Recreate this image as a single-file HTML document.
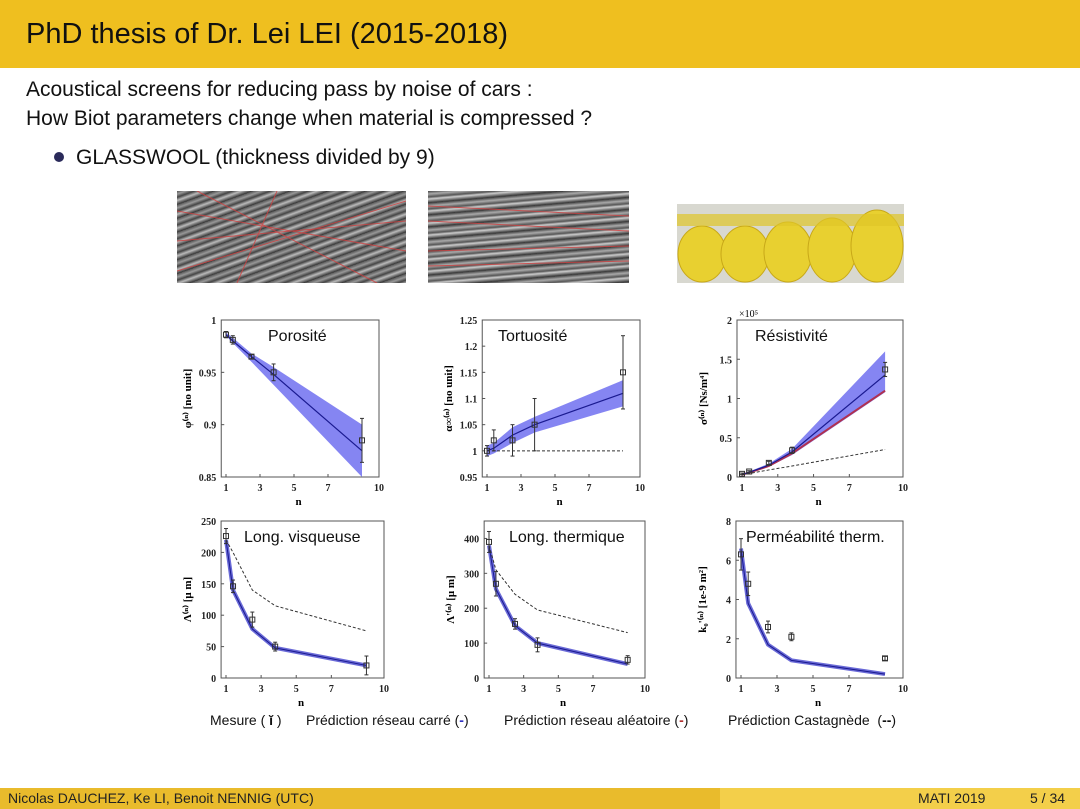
<!DOCTYPE html>
<html><head><meta charset="utf-8">
<style>
body{margin:0;width:1080px;height:809px;overflow:hidden;background:#fff;font-family:"Liberation Sans",sans-serif;position:relative}
.hdr{position:absolute;left:0;top:0;width:1080px;height:68px;background:#efbf1f}
.hdr h1{position:absolute;left:26px;top:18px;margin:0;font-weight:normal;font-size:29px;color:#111}
.txt{position:absolute;left:26px;font-size:21px;color:#111}
.ftr{position:absolute;left:0;top:788px;width:1080px;height:21px;background:linear-gradient(90deg,#e9bb2c 0,#e9bb2c 720px,#f3cf4a 720px)}
.ftr span{position:absolute;top:2px;font-size:14px;color:#222}
.photo{position:absolute;overflow:hidden}
</style></head><body>
<div class="hdr"><h1>PhD thesis of Dr. Lei LEI (2015-2018)</h1></div>
<div class="txt" style="top:78px">Acoustical screens for reducing pass by noise of cars :</div>
<div class="txt" style="top:107px">How Biot parameters change when material is compressed ?</div>
<div class="txt" style="top:146px;left:54px"><span style="display:inline-block;width:10px;height:10px;border-radius:50%;background:#2a2a5a;margin-right:12px;vertical-align:2px"></span>GLASSWOOL (thickness divided by 9)</div>

<div class="photo" style="left:177px;top:191px;width:229px;height:92px;background:repeating-linear-gradient(160deg,#555 0,#999 3px,#444 6px,#bbb 9px,#333 13px)">
<svg width="229" height="92"><g stroke="#d04040" stroke-width="1" opacity=".8"><line x1="0" y1="20" x2="229" y2="60"/><line x1="0" y1="50" x2="229" y2="30"/><line x1="20" y1="0" x2="200" y2="92"/><line x1="0" y1="80" x2="229" y2="10"/><line x1="100" y1="0" x2="60" y2="92"/></g></svg></div>
<div class="photo" style="left:428px;top:191px;width:201px;height:92px;background:repeating-linear-gradient(175deg,#444 0,#aaa 3px,#555 6px,#ccc 8px,#333 12px)">
<svg width="201" height="92"><g stroke="#d04040" stroke-width="1" opacity=".8"><line x1="0" y1="30" x2="201" y2="40"/><line x1="0" y1="60" x2="201" y2="55"/><line x1="0" y1="75" x2="201" y2="70"/><line x1="0" y1="15" x2="201" y2="25"/></g></svg></div>
<div class="photo" style="left:677px;top:204px;width:227px;height:79px;background:#d8d8d0">
<svg width="227" height="79"><g fill="#e8d030" stroke="#c8a818"><ellipse cx="25" cy="50" rx="24" ry="28"/><ellipse cx="68" cy="50" rx="24" ry="28"/><ellipse cx="111" cy="48" rx="24" ry="30"/><ellipse cx="155" cy="46" rx="24" ry="32"/><ellipse cx="200" cy="42" rx="26" ry="36"/></g><rect x="0" y="10" width="227" height="12" fill="#e0c628" opacity=".7"/></svg></div>

<svg id="ch" width="1080" height="809" style="position:absolute;left:0;top:0"></svg>

<div style="position:absolute;top:712px;left:0;width:1080px;font-size:14px;color:#111">
<span style="position:absolute;left:210px">Mesure ( <b>ĭ</b> )</span>
<span style="position:absolute;left:306px">Prédiction réseau carré (<b style="color:#3030c0">-</b>)</span>
<span style="position:absolute;left:504px">Prédiction réseau aléatoire (<b style="color:#b03030">-</b>)</span>
<span style="position:absolute;left:728px">Prédiction Castagnède &nbsp;(<b>--</b>)</span>
</div>

<div class="ftr">
<span style="left:8px">Nicolas DAUCHEZ, Ke LI, Benoit NENNIG (UTC)</span>
<span style="left:918px">MATI 2019</span>
<span style="left:1030px">5 / 34</span>
</div>

<script>
const nVals=[1,1.4,2.5,3.8,9];
const poroMeas=[0.986,0.981,0.965,0.950,0.885];
const poroErr=[0.003,0.004,0.002,0.008,0.021];
const poroLine=[0.986,0.980,0.965,0.948,0.875];
const poroLo=[0.985,0.978,0.960,0.938,0.850];
const poroHi=[0.988,0.983,0.968,0.955,0.900];
const tortMeas=[1.0,1.02,1.02,1.05,1.15];
const tortErr=[0.01,0.02,0.03,0.05,0.07];
const tortLine=[1.0,1.005,1.03,1.05,1.11];
const tortLo=[0.99,0.995,1.015,1.035,1.085];
const tortHi=[1.01,1.015,1.045,1.065,1.135];
const tortDash=[1,1,1,1,1];
const resMeas=[0.04,0.07,0.18,0.34,1.37];
const resErr=[0.01,0.01,0.02,0.04,0.09];
const resLine=[0.03,0.06,0.15,0.32,1.30];
const resLo=[0.03,0.05,0.13,0.28,1.08];
const resHi=[0.04,0.07,0.17,0.36,1.60];
const resRed=[0.03,0.055,0.14,0.30,1.10];
const resDash=[0.03,0.045,0.09,0.14,0.35];
const visMeas=[226,146,93,50,20];
const visErr=[12,10,12,7,15];
const visLine=[220,140,78,48,20];
const visDash=[220,200,140,115,75];
const thMeas=[390,270,155,95,52];
const thErr=[30,35,15,20,12];
const thLine=[380,255,150,100,40];
const thDash=[380,310,240,195,130];
const pmMeas=[6.3,4.8,2.6,2.1,1.0];
const pmErr=[0.8,0.6,0.3,0.2,0.1];
const pmLine=[6.6,3.8,1.7,0.9,0.2];
const xTicks=[1,3,5,7,10];
const poroTicks=[0.85,0.9,0.95,1];
const tortTicks=[0.95,1,1.05,1.1,1.15,1.2,1.25];
const resTicks=[0,0.5,1,1.5,2];
const visTicks=[0,50,100,150,200,250];
const thTicks=[0,100,200,300,400];
const pmTicks=[0,2,4,6,8];

const svg=document.getElementById('ch');
const NS='http://www.w3.org/2000/svg';
function mk(tag,attrs,parent){const e=document.createElementNS(NS,tag);for(const k in attrs)e.setAttribute(k,attrs[k]);(parent||svg).appendChild(e);return e;}
function chart(c){
  const x=v=>c.x1+(v-1)*(c.x10-c.x1)/9;
  const y=v=>c.yb-(v-c.ymin)*(c.yb-c.yt)/(c.ymax-c.ymin);
  const g=mk('g',{});
  
  
  const L=x(0.72),R=x(10);
  const box=mk('rect',{x:L,y:c.yt,width:R-L,height:c.yb-c.yt,fill:'#fff',stroke:'#555','stroke-width':1},g);
  
  
  xTicks.forEach(t=>{mk('line',{x1:x(t),x2:x(t),y1:c.yb,y2:c.yb-3,stroke:'#555'},g);
    const tx=mk('text',{x:x(t),y:c.yb+14,'text-anchor':'middle','font-size':10,'font-family':'Liberation Serif','font-weight':'bold',fill:'#222'},g);tx.textContent=t;
    });
  c.ticks.forEach(t=>{mk('line',{x1:L,x2:L+3,y1:y(t),y2:y(t),stroke:'#555'},g);
    const tx=mk('text',{x:L-5,y:y(t)+4,'text-anchor':'end','font-size':10,'font-family':'Liberation Serif','font-weight':'bold',fill:'#222'},g);tx.textContent=t;
    });
  const xl=mk('text',{x:(x(1)+x(10))/2-4,y:c.yb+28,'text-anchor':'middle','font-size':11,'font-family':'Liberation Serif','font-weight':'bold'},g);xl.textContent='n';
  
  const yl=mk('text',{transform:`translate(${L-30},${(c.yt+c.yb)/2}) rotate(-90)`,'text-anchor':'middle','font-size':11,'font-family':'Liberation Serif','font-weight':'bold'},g);yl.textContent=c.ylab;
  
  const tt=mk('text',{x:c.tx,y:c.yt+21,'font-size':16,fill:'#111'},g);tt.textContent=c.title;
  
  const pts=a=>a.map((v,i)=>x(nVals[i])+','+y(v)).join(' ');
  if(c.hi){const band=mk('polygon',{points:pts(c.hi)+' '+c.lo.map((v,i)=>x(nVals[i])+','+y(v)).reverse().join(' '),fill:'#7070f0',opacity:0.85},g);
    }
  if(c.red){const r=mk('polyline',{points:pts(c.red),fill:'none',stroke:'#b03050','stroke-width':2},g);
    }
  const ln=mk('polyline',{points:pts(c.line),fill:'none',stroke:c.hi?'#1a1a90':'#5050d0','stroke-width':c.hi?1.2:4,opacity:c.hi?1:0.85},g);
  
  if(!c.hi){const l2=mk('polyline',{points:pts(c.line),fill:'none',stroke:'#1a1a90','stroke-width':1},g);
    }
  if(c.dash){const d=mk('polyline',{points:pts(c.dash),fill:'none',stroke:'#333','stroke-width':1,'stroke-dasharray':'3,2'},g);
    }
  c.meas.forEach((v,i)=>{const cx=x(nVals[i]);
    const eb=mk('line',{x1:cx,x2:cx,y1:y(v-c.err[i]),y2:y(v+c.err[i]),stroke:'#333'},g);
    
    mk('line',{x1:cx-2,x2:cx+2,y1:y(v-c.err[i]),y2:y(v-c.err[i]),stroke:'#333'},g);
    mk('line',{x1:cx-2,x2:cx+2,y1:y(v+c.err[i]),y2:y(v+c.err[i]),stroke:'#333'},g);
    const m=mk('rect',{x:cx-2.5,y:y(v)-2.5,width:5,height:5,fill:'none',stroke:'#333'},g);
    });
  if(c.extra)c.extra(g,L);
}
chart({name:'porosity-chart',x1:226,x10:379,yt:320,yb:477,ymin:0.85,ymax:1,ticks:poroTicks,ylab:'φ⁽ⁿ⁾ [no unit]',title:'Porosité',tx:268,meas:poroMeas,err:poroErr,line:poroLine,lo:poroLo,hi:poroHi});
chart({name:'tortuosity-chart',x1:487,x10:640,yt:320,yb:477,ymin:0.95,ymax:1.25,ticks:tortTicks,ylab:'α∞⁽ⁿ⁾ [no unit]',title:'Tortuosité',tx:498,meas:tortMeas,err:tortErr,line:tortLine,lo:tortLo,hi:tortHi,dash:tortDash});
chart({name:'resistivity-chart',x1:742,x10:903,yt:320,yb:477,ymin:0,ymax:2,ticks:resTicks,ylab:'σ⁽ⁿ⁾ [Ns/m⁴]',title:'Résistivité',tx:755,meas:resMeas,err:resErr,line:resLine,lo:resLo,hi:resHi,red:resRed,dash:resDash,
 extra:(g,L)=>{const t=mk('text',{x:L+2,y:317,'font-size':10,'font-family':'Liberation Serif'},g);t.textContent='×10⁵';}});
chart({name:'viscous-length-chart',x1:226,x10:384,yt:521,yb:678,ymin:0,ymax:250,ticks:visTicks,ylab:'Λ⁽ⁿ⁾ [μ m]',title:'Long. visqueuse',tx:244,meas:visMeas,err:visErr,line:visLine,dash:visDash});
chart({name:'thermal-length-chart',x1:489,x10:645,yt:521,yb:678,ymin:0,ymax:450,ticks:thTicks,ylab:"Λ'⁽ⁿ⁾ [μ m]",title:'Long. thermique',tx:509,meas:thMeas,err:thErr,line:thLine,dash:thDash});
chart({name:'thermal-permeability-chart',x1:741,x10:903,yt:521,yb:678,ymin:0,ymax:8,ticks:pmTicks,ylab:"k₀'⁽ⁿ⁾ [1e-9 m²]",title:'Perméabilité therm.',tx:746,meas:pmMeas,err:pmErr,line:pmLine});
</script>
</body></html>
